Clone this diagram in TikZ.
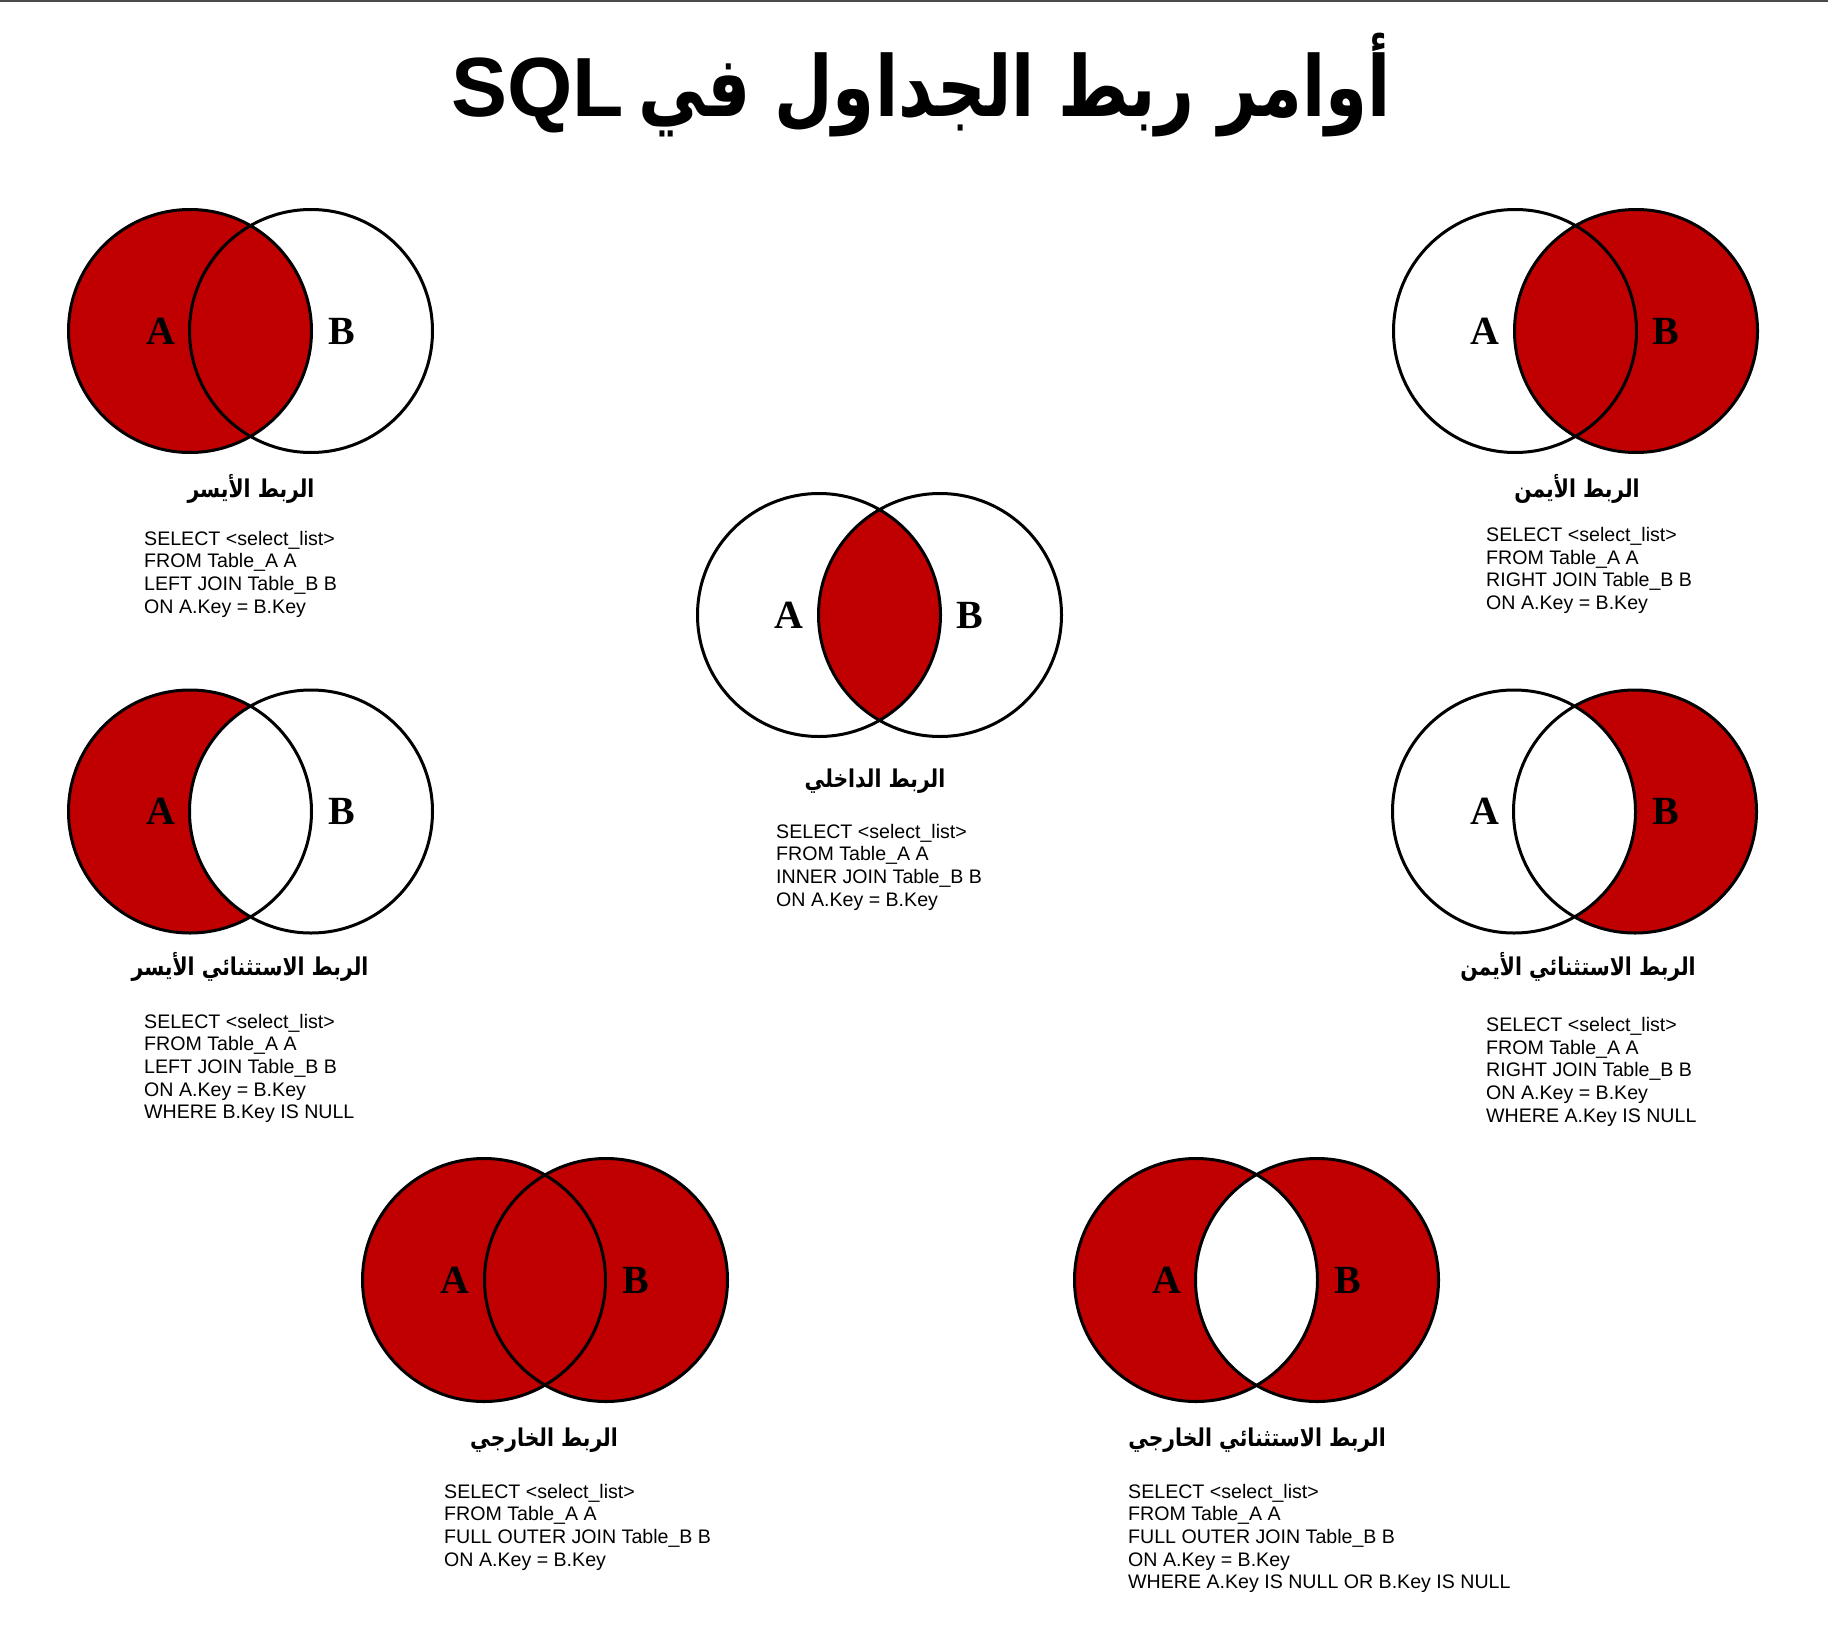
\documentclass[tikz,border=0pt]{standalone}
\usepackage{graphicx}
\usepackage{fontspec}
\setmainfont{Liberation Sans}
\newfontfamily\arabicfont[Script=Arabic]{DejaVu Sans}
\newfontfamily\timesfont{Liberation Serif}
\TeXXeTstate=1
\definecolor{joinred}{HTML}{C00000}
\definecolor{topline}{HTML}{4A4A4A}
\tikzset{
  ring/.style={draw=black, line width=3pt},
  redfill/.style={fill=joinred},
  letter/.style={font=\timesfont\bfseries\fontsize{40}{40}\selectfont, inner sep=0pt},
  arlbl/.style={font=\arabicfont\bfseries\fontsize{24.5}{28}\selectfont, inner sep=0pt, anchor=base},
  sqltxt/.style={font=\fontsize{19.6}{22.7}\selectfont, inner sep=0pt, anchor=base west},
  titletxt/.style={font=\bfseries\fontsize{84}{90}\selectfont, inner sep=0pt, anchor=base}
}
\newcommand\sqlblock[1]{\begin{tabular}[t]{@{}l@{}}#1\end{tabular}}
\newcommand\arcap[1]{\scalebox{0.83}[1]{\beginR #1\endR}}
\begin{document}
\begin{tikzpicture}[x=1pt,y=-1pt]
\useasboundingbox (0,0) rectangle (1828,1640);
\fill[topline] (0,0) rectangle (1828,2.5);
\def\R{121.5pt}
% centres
\coordinate (ljA) at (190,331);   \coordinate (ljB) at (311,331);
\coordinate (rjA) at (1515,331);  \coordinate (rjB) at (1636,331);
\coordinate (ijA) at (819,615);   \coordinate (ijB) at (940,615);
\coordinate (leA) at (190,811.5); \coordinate (leB) at (311,811.5);
\coordinate (reA) at (1514,811.5);\coordinate (reB) at (1635,811.5);
\coordinate (foA) at (484,1280);  \coordinate (foB) at (606,1280);
\coordinate (feA) at (1196,1280); \coordinate (feB) at (1317,1280);

% title (SQL on the left, Arabic on the right)
\node[titletxt] (title) at (921,117) {SQL\hspace{14pt}\scalebox{0.805}[1]{\arabicfont\beginR أوامر ربط الجداول في\endR}};

% left join
\fill[redfill] (ljA) circle (\R);
\draw[ring] (ljA) circle (\R) (ljB) circle (\R);
% right join
\fill[redfill] (rjB) circle (\R);
\draw[ring] (rjA) circle (\R) (rjB) circle (\R);
% inner join
\begin{scope}\clip (ijA) circle (\R); \fill[redfill] (ijB) circle (\R);\end{scope}
\draw[ring] (ijA) circle (\R) (ijB) circle (\R);
% left excluding
\begin{scope}\clip (leA) circle (\R); \fill[redfill, even odd rule] (leA) circle (\R) (leB) circle (\R);\end{scope}
\draw[ring] (leA) circle (\R) (leB) circle (\R);
% right excluding
\begin{scope}\clip (reB) circle (\R); \fill[redfill, even odd rule] (reA) circle (\R) (reB) circle (\R);\end{scope}
\draw[ring] (reA) circle (\R) (reB) circle (\R);
% full outer
\fill[redfill] (foA) circle (\R) (foB) circle (\R);
\draw[ring] (foA) circle (\R) (foB) circle (\R);
% full outer excluding
\fill[redfill, even odd rule] (feA) circle (\R) (feB) circle (\R);
\draw[ring] (feA) circle (\R) (feB) circle (\R);

% letters
\node[letter] (ljLa) at (161,331) {A};   \node[letter] (ljLb) at (342,331) {B};
\node[letter] (rjLa) at (1485,331) {A};  \node[letter] (rjLb) at (1666,331) {B};
\node[letter] (ijLa) at (789,615) {A};   \node[letter] (ijLb) at (970,615) {B};
\node[letter] (leLa) at (161,811.5) {A}; \node[letter] (leLb) at (342,811.5) {B};
\node[letter] (reLa) at (1485,811.5) {A};\node[letter] (reLb) at (1666,811.5) {B};
\node[letter] (foLa) at (455,1280) {A};  \node[letter] (foLb) at (636,1280) {B};
\node[letter] (feLa) at (1167,1280) {A}; \node[letter] (feLb) at (1348,1280) {B};

% arabic captions
\node[arlbl] (ljT) at (251,497) {\arcap{الربط الأيسر}};
\node[arlbl] (rjT) at (1577,497) {\arcap{الربط الأيمن}};
\node[arlbl] (ijT) at (875,787) {\arcap{الربط الداخلي}};
\node[arlbl] (leT) at (250,975) {\arcap{الربط الاستثنائي الأيسر}};
\node[arlbl] (reT) at (1578,975) {\arcap{الربط الاستثنائي الأيمن}};
\node[arlbl] (foT) at (544,1446) {\arcap{الربط الخارجي}};
\node[arlbl] (feT) at (1257,1446) {\arcap{الربط الاستثنائي الخارجي}};

% sql
\node[sqltxt] (ljS) at (144,545) {\sqlblock{SELECT <select\_list>\\FROM Table\_A A\\LEFT JOIN Table\_B B\\ON A.Key = B.Key}};
\node[sqltxt] (rjS) at (1486,541.5) {\sqlblock{SELECT <select\_list>\\FROM Table\_A A\\RIGHT JOIN Table\_B B\\ON A.Key = B.Key}};
\node[sqltxt] (ijS) at (776,838) {\sqlblock{SELECT <select\_list>\\FROM Table\_A A\\INNER JOIN Table\_B B\\ON A.Key = B.Key}};
\node[sqltxt] (leS) at (144,1028) {\sqlblock{SELECT <select\_list>\\FROM Table\_A A\\LEFT JOIN Table\_B B\\ON A.Key = B.Key\\WHERE B.Key IS NULL}};
\node[sqltxt] (reS) at (1486,1031.5) {\sqlblock{SELECT <select\_list>\\FROM Table\_A A\\RIGHT JOIN Table\_B B\\ON A.Key = B.Key\\WHERE A.Key IS NULL}};
\node[sqltxt] (foS) at (444,1498) {\sqlblock{SELECT <select\_list>\\FROM Table\_A A\\FULL OUTER JOIN Table\_B B\\ON A.Key = B.Key}};
\node[sqltxt] (feS) at (1128,1498) {\sqlblock{SELECT <select\_list>\\FROM Table\_A A\\FULL OUTER JOIN Table\_B B\\ON A.Key = B.Key\\WHERE A.Key IS NULL OR B.Key IS NULL}};
\end{tikzpicture}
\end{document}
